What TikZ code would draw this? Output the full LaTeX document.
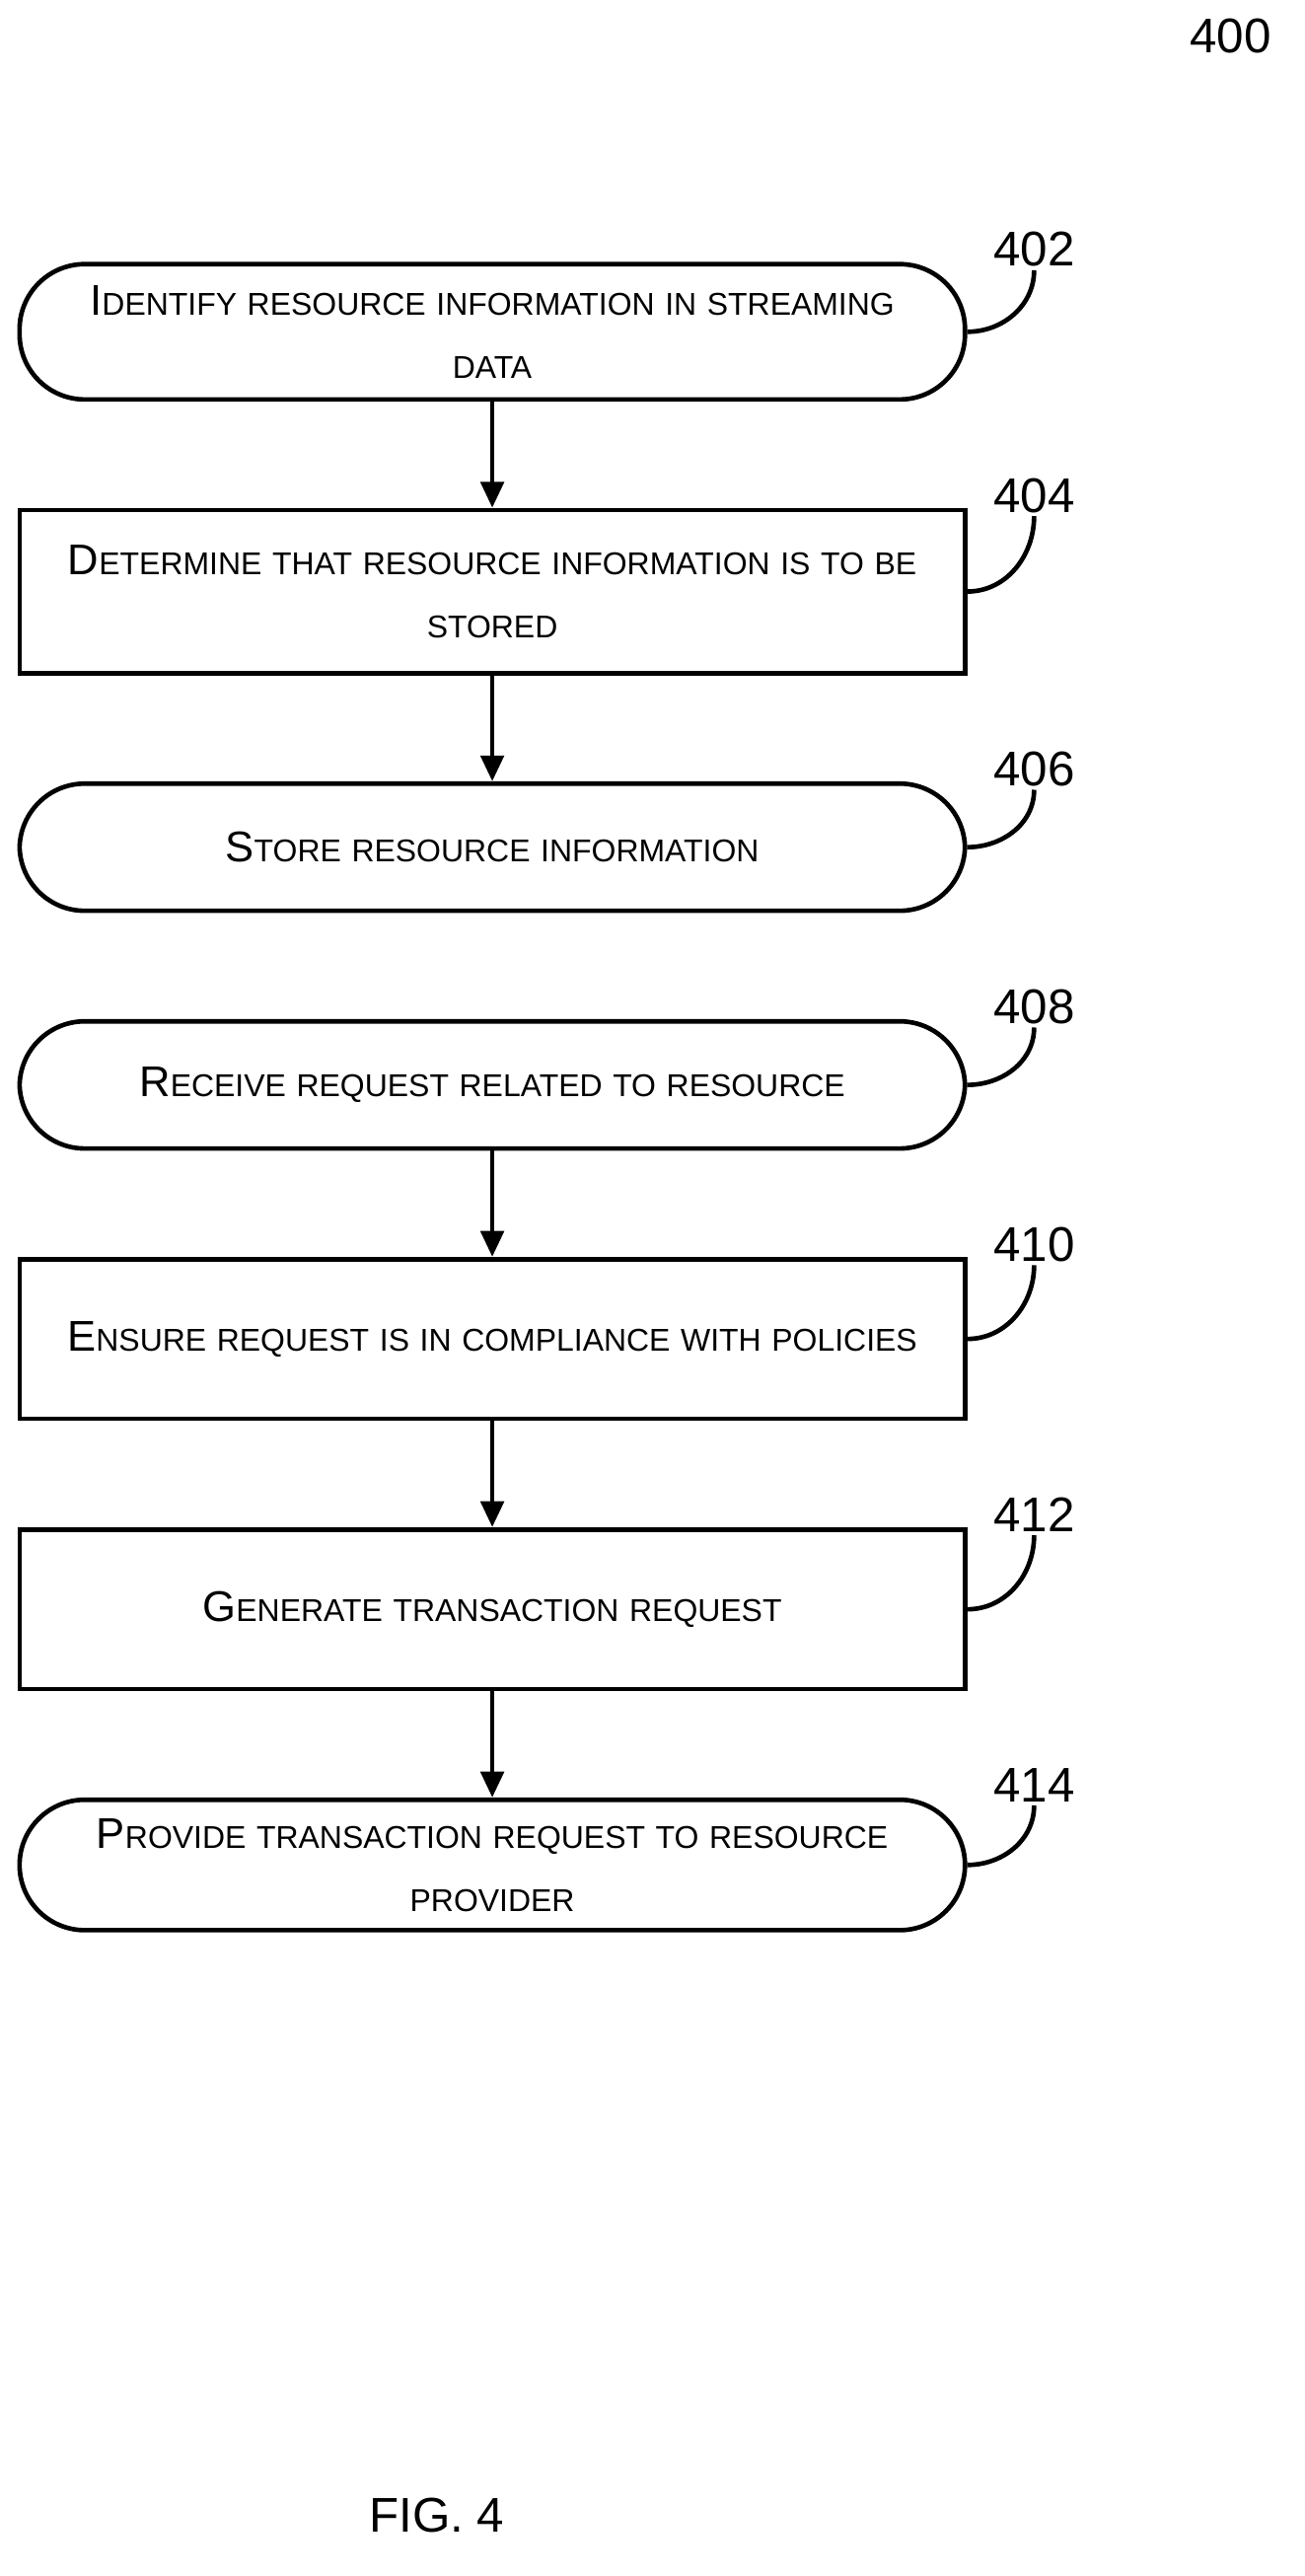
\documentclass[tikz,border=0pt]{standalone}
\usepackage{fontspec}
\setmainfont{Liberation Sans}
\usepackage{tikz}
\usetikzlibrary{arrows.meta,positioning,calc}
\newcommand\smc[2]{{\fontsize{15}{17}\selectfont #1}{\fontsize{11}{17}\selectfont\MakeUppercase{#2}}}
\tikzstyle{process} = [rectangle, draw, black, line width=1.6pt,
minimum width=11.6cm, text width=11.2cm, align=center,
font=\fontsize{11}{22}\selectfont, inner sep=2pt]
\tikzstyle{term} = [process, rounded corners=0.8cm]
\tikzstyle{num} = [font=\fontsize{17}{20}\selectfont, inner sep=1pt]
\tikzstyle{flow} = [-{Triangle[width=8pt,length=9pt]}, line width=1.6pt]
\tikzstyle{lead} = [line width=1.6pt]
\begin{document}
\begin{tikzpicture}[node distance=1.3cm]
	\useasboundingbox (0,0) rectangle (16,-31.6);
	\node[num] (fig) at (15.1,-0.44){400};

	\node[term, minimum height=1.66cm] (s402) at (6.04,-4.07){\smc{I}{dentify resource information in streaming}\\\smc{}{data}};
	\node[process, minimum height=2cm, below=of s402] (s404){\smc{D}{etermine that resource information is to be}\\\smc{}{stored}};
	\node[term, minimum height=1.56cm, below=of s404] (s406){\smc{S}{tore resource information}};
	\node[term, minimum height=1.56cm, below=of s406] (s408){\smc{R}{eceive request related to resource}};
	\node[process, minimum height=1.96cm, below=of s408] (s410){\smc{E}{nsure request is in compliance with policies}};
	\node[process, minimum height=1.96cm, below=of s410] (s412){\smc{G}{enerate transaction request}};
	\node[term, minimum height=1.6cm, below=of s412] (s414){\smc{P}{rovide transaction request to resource}\\\smc{}{provider}};

	\foreach \n in {402,404,406,408,410,412,414}{
		\node[num] (l\n) at ($(s\n.north east)+(0.82,0.15)$){\n};
		\draw[lead] (s\n.east) to[out=0, in=-90] (l\n.south);
	}

	\draw[flow] (s402) -- (s404);
	\draw[flow] (s404) -- (s406);
	\draw[flow] (s408) -- (s410);
	\draw[flow] (s410) -- (s412);
	\draw[flow] (s412) -- (s414);

	\node[num] (cap) at (5.36,-30.86){FIG. 4};
\end{tikzpicture}
\end{document}
